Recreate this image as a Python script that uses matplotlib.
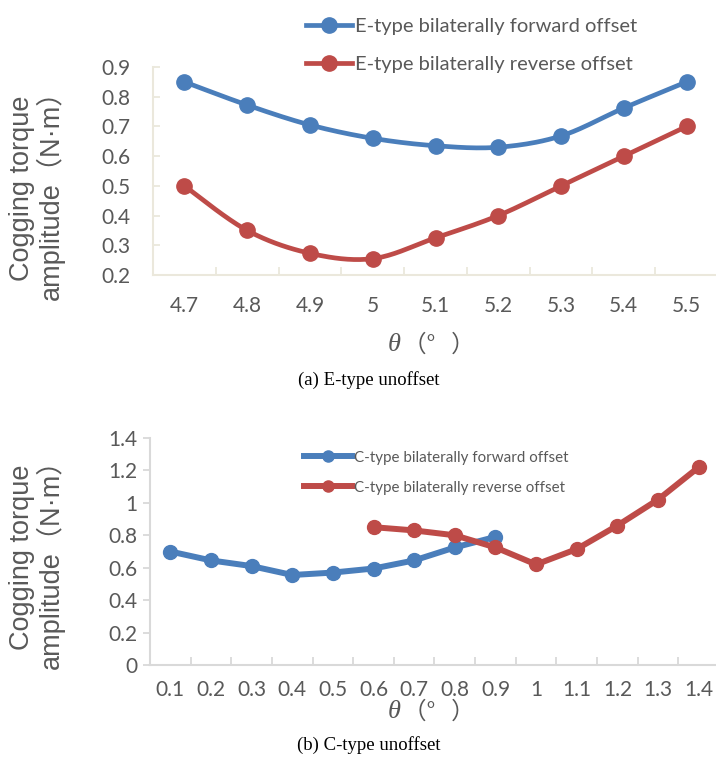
import numpy as np
import matplotlib
matplotlib.use("Agg")
import matplotlib.pyplot as plt
from matplotlib.lines import Line2D

# ---- data ----
e_theta = ["4.7", "4.8", "4.9", "5", "5.1", "5.2", "5.3", "5.4", "5.5"]
e_forward = [0.85, 0.772, 0.705, 0.66, 0.635, 0.63, 0.668, 0.762, 0.85]
e_reverse = [0.50, 0.35, 0.273, 0.255, 0.325, 0.40, 0.50, 0.60, 0.70]

c_theta = ["0.1", "0.2", "0.3", "0.4", "0.5", "0.6", "0.7",
           "0.8", "0.9", "1", "1.1", "1.2", "1.3", "1.4"]
c_forward = [0.70, 0.645, 0.61, 0.555, 0.57, 0.595, 0.645, 0.725, 0.79]
c_forward_idx = [0, 1, 2, 3, 4, 5, 6, 7, 8]
c_reverse = [0.85, 0.83, 0.80, 0.725, 0.62, 0.715, 0.86, 1.02, 1.22]
c_reverse_idx = [5, 6, 7, 8, 9, 10, 11, 12, 13]

e_labels = ["E-type bilaterally forward offset", "E-type bilaterally reverse offset"]
c_labels = ["C-type bilaterally forward offset", "C-type bilaterally reverse offset"]
ylabel_text = "Cogging torque\namplitude（N·m）"

BLUE = "#4A7EBB"
RED = "#BE4B48"
GRAY = "#595959"
AXC1 = "#EBE8DC"
AXC2 = "#D9D9D9"

TICKFONT = ["Lato", "DejaVu Sans"]
LABFONT = ["Liberation Sans", "Noto Sans CJK SC", "DejaVu Sans"]
CJKFONT = ["Noto Sans CJK SC", "DejaVu Sans"]
LEGFONT = ["Lato", "DejaVu Sans"]


def smooth(x, y, n=20):
    x = np.asarray(x, float)
    y = np.asarray(y, float)
    P = np.column_stack([x, y])
    P = np.vstack([P[0], P, P[-1]])
    out = []
    for i in range(1, len(P) - 2):
        p0, p1, p2, p3 = P[i - 1], P[i], P[i + 1], P[i + 2]
        t = np.linspace(0, 1, n, endpoint=False)[:, None]
        seg = 0.5 * ((2 * p1) + (-p0 + p2) * t + (2 * p0 - 5 * p1 + 4 * p2 - p3) * t ** 2
                     + (-p0 + 3 * p1 - 3 * p2 + p3) * t ** 3)
        out.append(seg)
    out.append(P[-2][None, :])
    out = np.vstack(out)
    return out[:, 0], out[:, 1]


def style_axes(ax, ncat, yticks, yfmt, axc, xpad, ypad, ydir):
    for s in ["top", "right"]:
        ax.spines[s].set_visible(False)
    for s in ["left", "bottom"]:
        ax.spines[s].set_color(axc)
        ax.spines[s].set_linewidth(1.5)
    ax.set_xlim(-0.5, ncat - 0.5)
    ax.set_xticks(np.arange(-0.5, ncat, 1.0), minor=True)
    ax.tick_params(axis="x", which="minor", direction="in", length=6, color=axc, width=1.3)
    ax.tick_params(axis="x", which="major", length=0, pad=xpad)
    ax.set_yticks(yticks)
    ax.set_yticklabels([yfmt(v) for v in yticks])
    ax.tick_params(axis="y", which="major", direction=ydir, length=5, color=axc,
                   width=1.3, pad=ypad)
    for lab in ax.get_xticklabels() + ax.get_yticklabels():
        lab.set_family(TICKFONT)
        lab.set_fontsize(15)
        lab.set_color(GRAY)


def theta_label(fig, x, y):
    fig.text(x / 716, 1 - y / 762, "θ", family=["Liberation Serif"], style="italic",
             fontsize=19, color=GRAY, ha="center", va="center")
    fig.text((x + 9) / 716, 1 - y / 762, "（°   ）", family=CJKFONT,
             fontsize=17, color=GRAY, ha="left", va="center")


fig = plt.figure(figsize=(7.16, 7.62), dpi=100)

# ---------- top chart ----------
ax1 = fig.add_axes([153 / 716, 1 - 275 / 762, (718 - 153) / 716, (275 - 67) / 762])
x1 = np.arange(len(e_theta))
for vals, col in [(e_forward, BLUE), (e_reverse, RED)]:
    sx, sy = smooth(x1, vals)
    ax1.plot(sx, sy, color=col, lw=3.4, solid_capstyle="round", zorder=2)
    ax1.plot(x1, vals, "o", color=col, ms=11, zorder=3)
ax1.set_ylim(0.2, 0.9)
ax1.set_xticks(x1)
ax1.set_xticklabels(e_theta)
style_axes(ax1, len(e_theta), [0.2, 0.3, 0.4, 0.5, 0.6, 0.7, 0.8, 0.9],
           lambda v: f"{v:.1f}", AXC1, 15, 16, "in")
fig.text(37 / 716, 1 - 188 / 762, ylabel_text, family=LABFONT, fontsize=19.5,
         color=GRAY, rotation=90, ha="center", va="center", multialignment="center",
         linespacing=1.0)
theta_label(fig, 394, 345)
fig.text(369 / 716, 1 - 380 / 762, "(a) E-type unoffset", family=["Liberation Serif"],
         fontsize=13.5, color="black", ha="center", va="center")

h1 = [Line2D([], [], color=BLUE, lw=3.4, marker="o", ms=11),
      Line2D([], [], color=RED, lw=3.4, marker="o", ms=11)]
fig.legend(h1, e_labels, loc="upper left", bbox_to_anchor=(288 / 716, 1 - 0 / 762),
           frameon=False, handlelength=2.3, handletextpad=0.12, labelspacing=1.05,
           prop={"family": LEGFONT, "size": 14.5}, labelcolor=GRAY)

# ---------- bottom chart ----------
ax2 = fig.add_axes([150 / 716, 1 - 665 / 762, (719 - 150) / 716, (665 - 438) / 762])
ax2.plot(c_forward_idx, c_forward, color=BLUE, lw=4.3, marker="o", ms=10, zorder=2)
ax2.plot(c_reverse_idx, c_reverse, color=RED, lw=4.3, marker="o", ms=10, zorder=3)
ax2.set_ylim(0, 1.4)
ax2.set_xticks(np.arange(len(c_theta)))
ax2.set_xticklabels(c_theta)
style_axes(ax2, len(c_theta), [0, 0.2, 0.4, 0.6, 0.8, 1.0, 1.2, 1.4],
           lambda v: "0" if v == 0 else ("1" if abs(v - 1) < 1e-9 else f"{v:.1f}"),
           AXC2, 11, 4, "out")
fig.text(37 / 716, 1 - 557 / 762, ylabel_text, family=LABFONT, fontsize=19.5,
         color=GRAY, rotation=90, ha="center", va="center", multialignment="center",
         linespacing=1.0)
theta_label(fig, 394, 712)
fig.text(369 / 716, 1 - 745 / 762, "(b) C-type unoffset", family=["Liberation Serif"],
         fontsize=13.5, color="black", ha="center", va="center")

h2 = [Line2D([], [], color=BLUE, lw=4.3, marker="o", ms=8),
      Line2D([], [], color=RED, lw=4.3, marker="o", ms=8)]
fig.legend(h2, c_labels, loc="upper left", bbox_to_anchor=(290 / 716, 1 - 437 / 762),
           frameon=False, handlelength=3.2, handletextpad=0.1, labelspacing=1.05,
           prop={"family": LEGFONT, "size": 10.9}, labelcolor=GRAY)

fig.savefig("out.png", dpi=100)
